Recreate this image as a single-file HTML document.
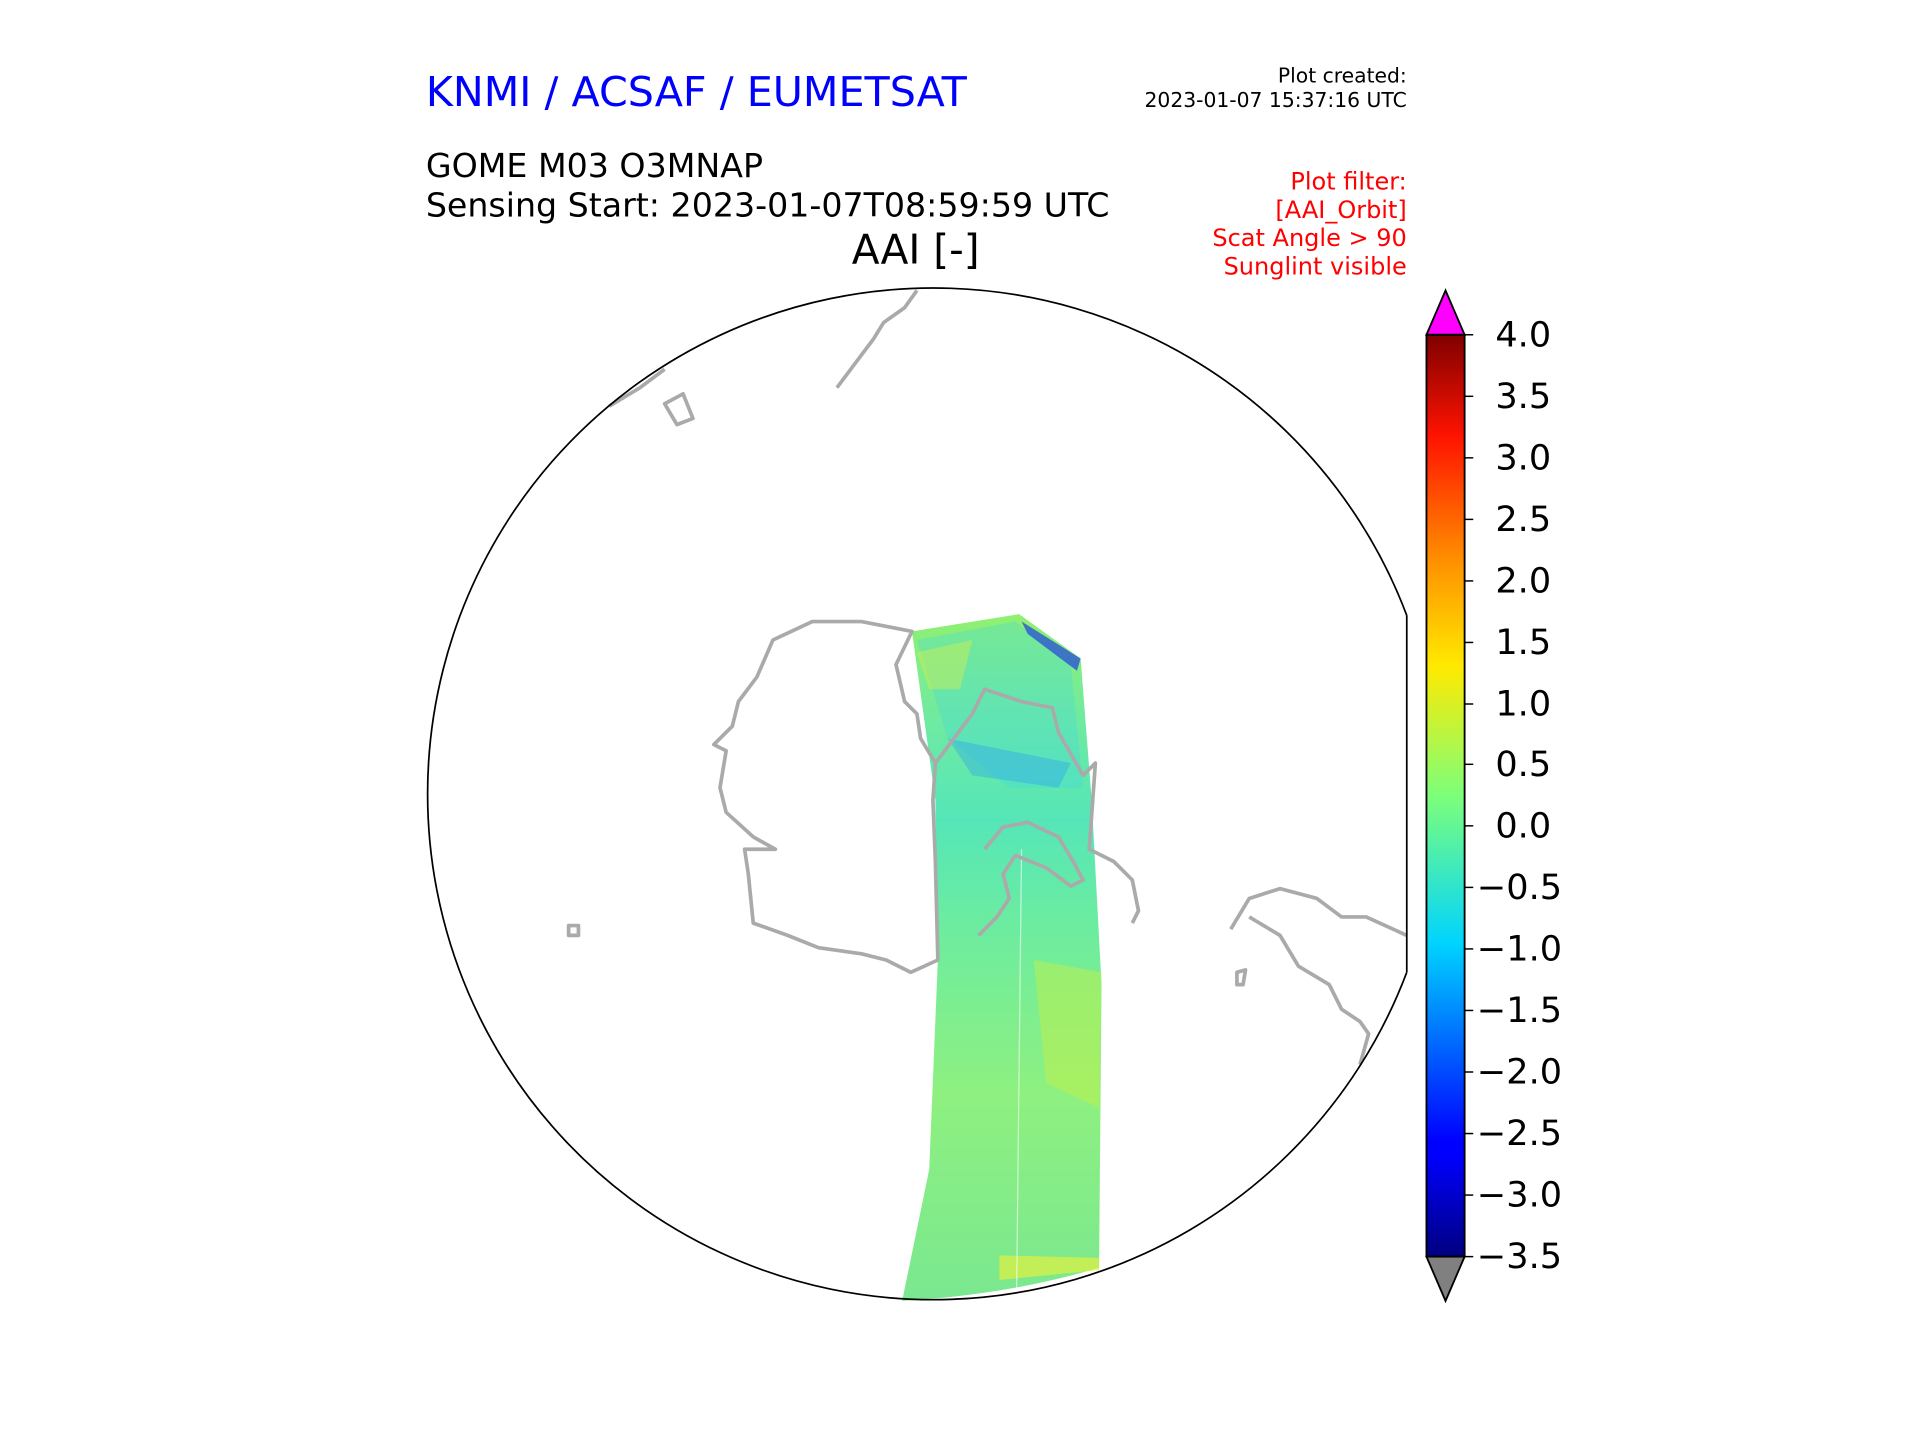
<!DOCTYPE html>
<html><head><meta charset="utf-8"><style>
html,body{margin:0;padding:0;background:#fff;}
svg{display:block;}
text{font-family:"DejaVu Sans","Liberation Sans",sans-serif;}
</style></head><body>
<svg width="1920" height="1440" viewBox="0 0 1560 1170" xmlns="http://www.w3.org/2000/svg">
<defs>
<linearGradient id="jet" x1="0" y1="1" x2="0" y2="0">
<stop offset="0" stop-color="#00007f"/>
<stop offset="0.11" stop-color="#0000ff"/>
<stop offset="0.125" stop-color="#0000ff"/>
<stop offset="0.34" stop-color="#00d4ff"/>
<stop offset="0.5" stop-color="#7dff7a"/>
<stop offset="0.64" stop-color="#ffea00"/>
<stop offset="0.75" stop-color="#ff9400"/>
<stop offset="0.89" stop-color="#ff1300"/>
<stop offset="1" stop-color="#7f0000"/>
</linearGradient>
<linearGradient id="sw" x1="0" y1="0" x2="0" y2="1">
<stop offset="0" stop-color="#90f070"/>
<stop offset="0.15" stop-color="#70eaa0"/>
<stop offset="0.3" stop-color="#55e6b8"/>
<stop offset="0.45" stop-color="#6cecA0"/>
<stop offset="0.7" stop-color="#8ef080"/>
<stop offset="1" stop-color="#7ae890"/>
</linearGradient>
<clipPath id="cc"><rect x="0" y="0" width="1143" height="1170"/></clipPath>
</defs>
<text x="346" y="86" font-size="33.5" fill="#0000ff">KNMI / ACSAF / EUMETSAT</text>
<text x="1143" y="67" font-size="16.5" text-anchor="end">Plot created:</text>
<text x="1143" y="87" font-size="16.5" text-anchor="end">2023-01-07 15:37:16 UTC</text>
<text x="346" y="144" font-size="27">GOME M03 O3MNAP</text>
<text x="346" y="176" font-size="27">Sensing Start: 2023-01-07T08:59:59 UTC</text>
<text x="744" y="214" font-size="33" text-anchor="middle">AAI [-]</text>
<g font-size="19.5" fill="#ff0000" text-anchor="end">
<text x="1143" y="154">Plot filter:</text>
<text x="1143" y="177">[AAI_Orbit]</text>
<text x="1143" y="200">Scat Angle &gt; 90</text>
<text x="1143" y="223">Sunglint visible</text>
</g>
<g clip-path="url(#cc)">
<path d="M741,513 L828,499 L878,535 L887,650 L895,800 L893,1030 Q820,1052 733,1057 L755,950 L762,780 L760,650 Z" fill="url(#sw)"/>
<path d="M745,520 L825,505 L870,540 L880,640 L820,640 L770,600 Z" fill="#3fd8e0" opacity="0.3"/>
<path d="M770,600 L870,620 L860,640 L790,630 Z" fill="#2090ff" opacity="0.3"/>
<path d="M830,505 L878,535 L875,545 L835,515 Z" fill="#2040e0" opacity="0.7"/>
<path d="M745,530 L790,520 L780,560 L755,560 Z" fill="#d0f050" opacity="0.45"/>
<path d="M840,780 L895,790 L893,900 L850,880 Z" fill="#c8f040" opacity="0.45"/>
<path d="M812,1020 L893,1022 L893,1032 L812,1040 Z" fill="#e0f040" opacity="0.7"/>
<line x1="830" y1="690" x2="826" y2="1050" stroke="#fff" stroke-width="1" opacity="0.6"/>
<g fill="none" stroke="#aaaaaa" stroke-width="3" stroke-linejoin="round">
<path d="M628,520 L660,505 L700,505 L741,513 L728,540 L735,570 L745,580 L748,600 L760,620 L758,650 L760,700 L762,780 L740,790 L720,780 L700,775 L665,770 L640,760 L612,750 L608,710 L605,690 L630,690 L612,680 L590,660 L585,640 L590,610 L580,605 L595,590 L600,570 L615,550 L628,520 Z"/>
<path d="M760,620 L790,580 L800,560 L830,570 L855,575 L860,595 L880,630 L890,620 L885,690 L905,700 L920,715 L925,740 L920,750"/>
<path d="M800,690 L815,672 L835,668 L860,680 L872,700 L880,715 L870,720 L850,705 L825,695 L815,710 L820,730 L810,745 L795,760"/>
<path d="M680,315 L695,295 L710,275 L718,262 L735,250 L745,236"/>
<path d="M495,330 L520,315 L540,300"/>
<path d="M540,328 L555,320 L563,340 L550,345 Z"/>
<path d="M462,752 L470,752 L470,760 L462,760 Z"/>
<path d="M1000,755 L1015,730 L1040,722 L1070,730 L1090,745 L1110,745 L1143,760"/>
<path d="M1015,745 L1040,760 L1055,785 L1080,800 L1090,820 L1105,830 L1112,840 L1105,865"/>
<path d="M1005,790 L1012,788 L1010,800 L1005,800 Z"/>
</g>
</g>
<path d="M1143,500 A411,411 0 1 0 1143,790" fill="none" stroke="#000" stroke-width="1.4"/>
<path d="M1143,500 L1143,790" stroke="#000" stroke-width="1.4"/>
<rect x="1159" y="272" width="31" height="749" fill="url(#jet)"/>
<path d="M1159,272 L1174.5,236 L1190,272 Z" fill="#ff00ff" stroke="#000" stroke-width="1.5"/>
<path d="M1159,1021 L1174.5,1057 L1190,1021 Z" fill="#808080" stroke="#000" stroke-width="1.5"/>
<rect x="1159" y="272" width="31" height="749" fill="none" stroke="#000" stroke-width="1.5"/>
<g stroke="#000" stroke-width="1.2">
<line x1="1190" x2="1197" y1="272" y2="272"/><line x1="1190" x2="1197" y1="322" y2="322"/><line x1="1190" x2="1197" y1="372" y2="372"/><line x1="1190" x2="1197" y1="422" y2="422"/><line x1="1190" x2="1197" y1="472" y2="472"/><line x1="1190" x2="1197" y1="522" y2="522"/><line x1="1190" x2="1197" y1="572" y2="572"/><line x1="1190" x2="1197" y1="621" y2="621"/><line x1="1190" x2="1197" y1="671" y2="671"/><line x1="1190" x2="1197" y1="721" y2="721"/><line x1="1190" x2="1197" y1="771" y2="771"/><line x1="1190" x2="1197" y1="821" y2="821"/><line x1="1190" x2="1197" y1="871" y2="871"/><line x1="1190" x2="1197" y1="921" y2="921"/><line x1="1190" x2="1197" y1="971" y2="971"/><line x1="1190" x2="1197" y1="1021" y2="1021"/>
</g>
<g font-size="28.5" dominant-baseline="central">
<text x="1215" y="272">4.0</text><text x="1215" y="322">3.5</text><text x="1215" y="372">3.0</text><text x="1215" y="422">2.5</text><text x="1215" y="472">2.0</text><text x="1215" y="522">1.5</text><text x="1215" y="572">1.0</text><text x="1215" y="621">0.5</text><text x="1215" y="671">0.0</text><text x="1200" y="721">−0.5</text><text x="1200" y="771">−1.0</text><text x="1200" y="821">−1.5</text><text x="1200" y="871">−2.0</text><text x="1200" y="921">−2.5</text><text x="1200" y="971">−3.0</text><text x="1200" y="1021">−3.5</text>
</g>
</svg>
</body></html>
